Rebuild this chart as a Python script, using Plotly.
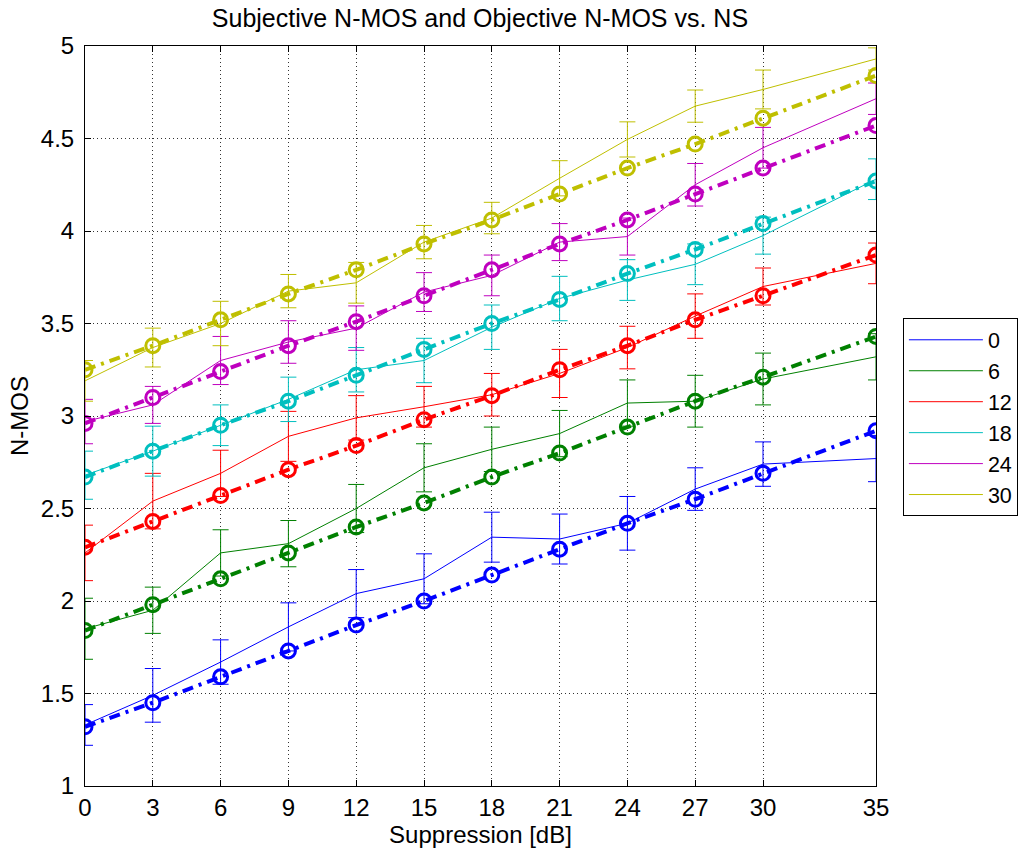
import plotly.graph_objects as go

x_db = [0, 3, 6, 9, 12, 15, 18, 21, 24, 27, 30, 35]
tick_vals = [0, 3, 6, 9, 12, 15, 18, 21, 24, 27, 30, 35]
y_ticks = [1, 1.5, 2, 2.5, 3, 3.5, 4, 4.5, 5]
series_names = ["0", "6", "12", "18", "24", "30"]
colors = ["#0000ff", "#008000", "#ff0000", "#00bfbf", "#bf00bf", "#bfbf00"]

# Subjective N-MOS (thin solid with error bars)
subj_0 = [1.33, 1.49, 1.67, 1.86, 2.04, 2.12, 2.345, 2.335, 2.42, 2.605, 2.74, 2.77]
subj_6 = [1.85, 1.95, 2.26, 2.31, 2.50, 2.72, 2.82, 2.905, 3.07, 3.08, 3.20, 3.32]
subj_12 = [2.26, 2.54, 2.69, 2.89, 2.99, 3.05, 3.115, 3.23, 3.37, 3.54, 3.70, 3.825]
subj_18 = [2.68, 2.81, 2.95, 3.09, 3.25, 3.30, 3.48, 3.635, 3.735, 3.82, 3.975, 4.28]
subj_24 = [2.97, 3.06, 3.30, 3.40, 3.475, 3.67, 3.76, 3.94, 3.97, 4.25, 4.45, 4.715]
subj_30 = [3.19, 3.37, 3.50, 3.675, 3.72, 3.94, 4.07, 4.285, 4.495, 4.675, 4.765, 4.93]

err_0 = [0.11, 0.145, 0.12, 0.13, 0.13, 0.135, 0.135, 0.135, 0.145, 0.115, 0.12, 0.125]
err_6 = [0.165, 0.125, 0.125, 0.125, 0.13, 0.13, 0.12, 0.125, 0.125, 0.14, 0.14, 0.125]
err_12 = [0.15, 0.15, 0.125, 0.135, 0.12, 0.11, 0.115, 0.13, 0.115, 0.12, 0.10, 0.11]
err_18 = [0.13, 0.135, 0.11, 0.12, 0.12, 0.12, 0.12, 0.12, 0.11, 0.11, 0.10, 0.11]
err_24 = [0.12, 0.10, 0.13, 0.115, 0.12, 0.105, 0.11, 0.10, 0.10, 0.115, 0.11, 0.085]
err_30 = [0.11, 0.105, 0.12, 0.09, 0.11, 0.09, 0.085, 0.095, 0.095, 0.087, 0.105, 0.06]

# Objective N-MOS (thick dash-dot with circles)
obj_0 = [1.32, 1.45, 1.59, 1.73, 1.87, 2.00, 2.14, 2.28, 2.42, 2.55, 2.69, 2.92]
obj_6 = [1.84, 1.98, 2.12, 2.26, 2.40, 2.53, 2.67, 2.80, 2.94, 3.08, 3.21, 3.43]
obj_12 = [2.29, 2.43, 2.57, 2.71, 2.84, 2.98, 3.11, 3.25, 3.38, 3.52, 3.65, 3.87]
obj_18 = [2.67, 2.81, 2.95, 3.08, 3.22, 3.36, 3.50, 3.63, 3.77, 3.90, 4.04, 4.27]
obj_24 = [2.96, 3.10, 3.24, 3.38, 3.51, 3.65, 3.79, 3.93, 4.06, 4.20, 4.34, 4.57]
obj_30 = [3.25, 3.38, 3.52, 3.66, 3.79, 3.93, 4.06, 4.20, 4.34, 4.47, 4.61, 4.84]

subj = [subj_0, subj_6, subj_12, subj_18, subj_24, subj_30]
errs = [err_0, err_6, err_12, err_18, err_24, err_30]
objs = [obj_0, obj_6, obj_12, obj_18, obj_24, obj_30]

fig = go.Figure()
for name, c, s, e in zip(series_names, colors, subj, errs):
    fig.add_trace(go.Scatter(
        x=x_db, y=s, name=name, mode="lines",
        line=dict(color=c, width=1),
        error_y=dict(type="data", array=e, visible=True, color=c, thickness=1, width=8),
        showlegend=True,
    ))
for name, c, o in zip(series_names, colors, objs):
    fig.add_trace(go.Scatter(
        x=x_db, y=o, name=name + " obj", mode="lines+markers",
        line=dict(color=c, width=4, dash="11px,6px,3px,6px"),
        marker=dict(symbol="circle-open", size=14, color=c, line=dict(width=3, color=c)),
        showlegend=False,
    ))

font_family = "Liberation Sans, Arial, sans-serif"
fig.update_layout(
    width=1019, height=850,
    margin=dict(l=85, r=143, t=46, b=64, autoexpand=False),
    paper_bgcolor="white", plot_bgcolor="white",
    font=dict(family=font_family, size=24, color="black"),
    title=dict(text="Subjective N-MOS and Objective N-MOS vs. NS", x=0.471, xanchor="center",
               y=0.979, yanchor="middle", font=dict(size=25)),
    legend=dict(x=1.034, y=0.632, xanchor="left", yanchor="top",
                bordercolor="black", borderwidth=1, bgcolor="white",
                font=dict(size=21.5), itemwidth=74, tracegroupgap=0),
    showlegend=True,
)
grid_style = dict(showgrid=True, gridcolor="#333333", griddash="1px,3px", gridwidth=1,
                  showline=True, linecolor="black", linewidth=1, mirror="ticks",
                  ticks="inside", ticklen=6, tickcolor="black", zeroline=False)
fig.update_xaxes(
    range=[0, 35], tickvals=tick_vals, ticktext=[str(t) for t in tick_vals],
    tickfont=dict(size=24),
    title=dict(text="Suppression [dB]", font=dict(size=24), standoff=3),
    **grid_style,
)
fig.update_yaxes(
    range=[1, 5], tickvals=y_ticks, ticktext=[f"{v:g}" for v in y_ticks],
    tickfont=dict(size=24), ticklabelstandoff=5,
    title=dict(text="N-MOS", font=dict(size=24), standoff=5),
    **grid_style,
)
fig.write_html("out.html")
